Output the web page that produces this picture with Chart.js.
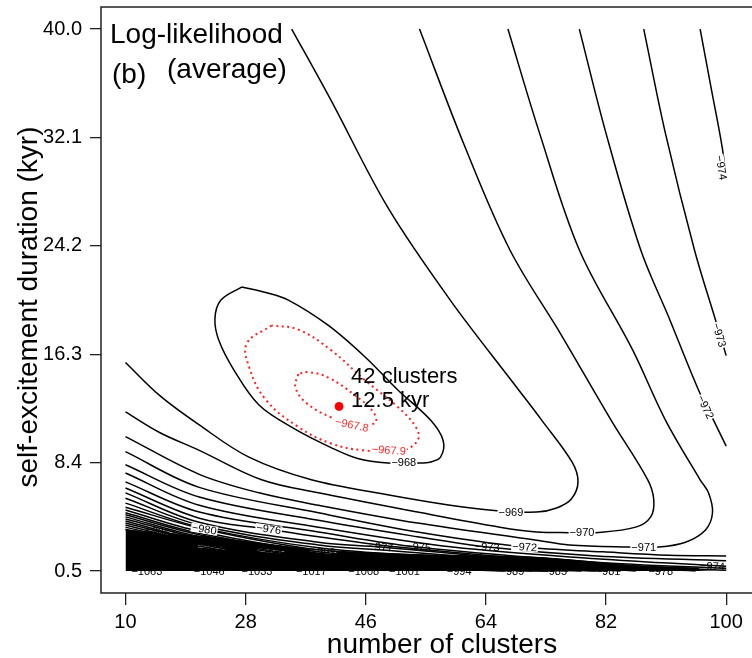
<!DOCTYPE html>
<html>
<head>
<meta charset="utf-8">
<script src="https://cdn.jsdelivr.net/npm/chart.js@4.4.0/dist/chart.umd.min.js"></script>
<style>
  html, body { margin: 0; padding: 0; background: #fff; overflow: hidden; }
</style>
</head>
<body>
<canvas id="myChart" width="752" height="658"></canvas>
<script>
const xTicks = [10, 28, 46, 64, 82, 100];
const yTicks = [0.5, 8.4, 16.3, 24.2, 32.1, 40.0];

// maximum of the average log-likelihood
const bestClusters = 42;
const bestDuration = 12.5;

// contour lines as [clusters, kyr] pairs
const c967_8 = [[35.9,14.86],[35.45,13.9],[37.1,12.75],[40.8,11.7],[44.1,11.2],[47.4,11.3],[47.1,12.1],[44.4,13.3],[40.4,14.6],[37.4,15.0],[35.9,14.86]];
const c967_9 = [[31.9,18.4],[28.2,17.1],[28.5,15.4],[31.0,13.0],[35.9,11.0],[40.8,9.8],[45.6,9.3],[51.5,9.3],[53.8,10.05],[53.5,11.0],[50.8,12.45],[45.9,14.4],[40.8,16.6],[35.9,18.1],[31.9,18.4]];
const c968 = [[27.4,21.2],[31.0,20.8],[34.4,20.25],[40.4,18.4],[45.9,16.1],[50.8,13.7],[55.7,11.5],[57.6,10.0],[57.2,8.8],[55.7,8.45],[53.8,8.37],[49.3,8.37],[44.8,8.7],[40.8,9.5],[35.2,10.9],[30.0,12.6],[26.25,15.15],[24.0,17.3],[23.4,18.9],[24.3,20.25],[27.4,21.2]];
const c969 = [[10.0,15.7],[15.1,13.3],[21.05,11.15],[28.5,8.8],[37.85,7.15],[48.85,6.1],[58.65,5.3],[65.65,4.9],[71.6,4.8],[74.6,5.1],[76.8,5.75],[77.8,7.0],[76.9,8.45],[72.35,11.5],[68.6,13.9],[58.65,20.25],[49.3,27.0],[40.8,34.8],[34.9,40.0]];
const c970 = [[10.0,12.1],[15.1,10.6],[21.05,9.3],[30.4,7.15],[38.9,6.2],[53.75,4.8],[66.1,3.7],[71.6,3.35],[76.5,3.3],[80.5,3.3],[86.45,3.7],[88.7,4.45],[89.15,5.7],[88.25,7.15],[82.75,11.5],[75.3,17.7],[67.6,23.9],[60.75,31.55],[54.05,40.0]];
const c971 = [[10,10.3],[21.05,7.55],[30.0,6.2],[38.9,5.3],[53.75,4.0],[71.6,2.75],[76.5,2.4],[85.4,2.25],[89.9,2.25],[93.9,2.6],[96.9,3.5],[97.95,4.75],[97.35,6.2],[96.1,7.15],[90.9,11.5],[86.0,16.6],[78.0,23.9],[72.05,32.4],[67.3,40.0]];
const c972top = [[78.0,40],[82.0,32.4],[87.2,23.9],[91.4,19.0],[95.85,13.7],[98.1,11.5],[100,9.6]];
const c972low = [[10,9.2],[21.05,6.6],[38.9,4.75],[53.75,3.35],[69.8,2.25],[81.55,1.9],[91.4,1.65],[100,1.6]];
const c973top = [[87.65,40],[90.9,32.4],[95.25,23.9],[98.4,18.8],[100,16.2]];
const c973low = [[10,8.25],[21.05,5.9],[38.9,4.2],[53.75,3.0],[64.2,2.25],[80.5,1.6],[100,1.25]];
const c974top = [[96.1,40],[97.75,35.7],[99.4,31.4],[100,29.0]];
const c974low = [[10,7.65],[21.05,5.3],[38.9,3.7],[59.0,2.25],[80.5,1.4],[100,0.85]];
const c975 = [[10,7.0],[21.05,4.8],[38.9,3.35],[53.75,2.25],[80.5,1.15],[100,0.7]];
const c976 = [[10,6.55],[21.05,4.35],[31.45,3.55],[38.9,3.0],[50.8,2.25],[80.5,1.0],[100,0.55]];
const c977 = [[10,6.2],[21.05,4.05],[38.9,2.6],[48.25,2.25],[80.5,0.85],[95.4,0.5]];
const c978 = [[10,5.8],[21.05,3.85],[38.9,2.4],[50.8,1.95],[71.6,1.15],[90.2,0.5]];
const c979 = [[10,5.45],[21.05,3.7],[38.9,2.2],[58.2,1.5],[86.45,0.5]];
const c980 = [[10,5.15],[21.8,3.55],[38.9,2.05],[58.2,1.3],[84.2,0.5]];
const c981 = [[10,4.95],[21.05,3.4],[38.9,1.9],[58.2,1.15],[82.3,0.5]];
const c982 = [[10,4.75],[21.05,3.25],[38.9,1.8],[58.2,1.0],[80.5,0.5]];
const c983 = [[10,4.6],[21.05,3.15],[38.9,1.75],[58.2,0.95],[78.3,0.5]];
const c984 = [[10,4.45],[21.05,3.0],[38.9,1.65],[56.7,0.85],[76.35,0.5]];
const c985 = [[10,4.3],[21.05,2.9],[38.9,1.5],[55.3,0.8],[74.3,0.5]];
const c986 = [[10,4.15],[21.05,2.75],[38.9,1.45],[53.75,0.8],[72.65,0.5]];
const c987 = [[10,4.0],[21.05,2.7],[38.9,1.3],[71.0,0.5]];
const c988 = [[10,3.85],[21.05,2.55],[38.9,1.25],[69.4,0.5]];
const c989 = [[10,3.7],[21.05,2.45],[38.9,1.15],[67.9,0.5]];
const c990 = [[10,3.55],[21.05,2.3],[38.9,1.1],[66.1,0.5]];
// upper edge of the band where the lines run together
const denseTop = [[10,3.5],[21.05,3.05],[38.9,2.05],[53.75,1.7],[71.6,1.5],[86.45,0.9],[100,0.65]];

const blackLines = [c968, c969, c970, c971, c972top, c972low, c973top, c973low, c974top, c974low,
  c975, c976, c977, c978, c979, c980, c981, c982, c983, c984, c985, c986, c987, c988, c989, c990];
const redLines = [c967_8, c967_9];

// contour labels: text, clusters, kyr, angle (deg)
const clearLabels = [
  ['−967.8', 43.9, 11.15, 12, 'red'],
  ['−967.9', 49.45, 9.3, 4, 'red'],
  ['−968', 51.7, 8.45, 0],
  ['−969', 67.75, 4.8, 0],
  ['−970', 78.4, 3.3, 0],
  ['−971', 87.65, 2.25, 0],
  ['−972', 69.8, 2.25, 3],
  ['−976', 31.45, 3.55, 8],
  ['−980', 21.8, 3.55, 9],
  ['−974', 99.25, 29.9, 80],
  ['−973', 98.95, 17.7, 73],
  ['−972', 96.9, 12.45, 65]
];
const buriedLabels = [
  ['−977', 48.25, 2.25, 5],
  ['−975', 53.9, 2.25, 5],
  ['−973', 64.2, 2.25, 3],
  ['−974', 97.95, 0.85, 3],
  ['−986', 14.8, 3.4, 10, 'thin'],
  ['−999', 22.85, 2.25, 6, 'thin'],
  ['−996', 31.75, 1.95, 5, 'thin'],
  ['−993', 39.6, 1.9, 4, 'thin']
];
const edgeLabels = [
  ['−978', 90.2], ['−981', 82.3], ['−985', 74.3], ['−989', 67.9], ['−994', 60.0], ['−1001', 51.8],
  ['−1008', 45.7], ['−1017', 37.85], ['−1033', 29.7], ['−1046', 22.55], ['−1063', 13.2]
];

const FONT = '"Liberation Sans", Arial, Helvetica, sans-serif';

function toPts(arr) {
  return arr.map(p => ({x: p[0], y: p[1]}));
}

function drawLabel(chart, lab, mode) {
  const ctx = chart.ctx;
  const xs = chart.scales.x, ys = chart.scales.y;
  const px = xs.getPixelForValue(lab[1]);
  const py = ys.getPixelForValue(lab[2]);
  const ang = (lab[3] || 0) * Math.PI / 180;
  ctx.save();
  ctx.translate(px, py);
  ctx.rotate(ang);
  ctx.font = '11px ' + FONT;
  ctx.textAlign = 'center';
  ctx.textBaseline = 'middle';
  const w = ctx.measureText(lab[0]).width + 2;
  const h = mode === 'thin' ? 3 : 9;
  ctx.fillStyle = '#fff';
  ctx.fillRect(-w / 2, -h / 2, w, h);
  ctx.fillStyle = lab[4] === 'red' ? '#ff2a2a' : '#000';
  ctx.fillText(lab[0], 0, 0.5);
  ctx.restore();
}

const labelPlugin = {
  id: 'contourLabels',
  beforeDatasetsDraw(chart) {
    edgeLabels.forEach(l => drawLabel(chart, [l[0], l[1], 0.45, 0]));
  },
  afterDatasetDraw(chart, args) {
    if (args.meta.order === 3) {
      buriedLabels.forEach(l => drawLabel(chart, l, l[4]));
    }
  },
  afterDatasetsDraw(chart) {
    clearLabels.forEach(l => drawLabel(chart, l));
  }
};

const framePlugin = {
  id: 'frame',
  afterDraw(chart) {
    const ctx = chart.ctx;
    const a = chart.chartArea;
    ctx.save();
    ctx.strokeStyle = '#222';
    ctx.lineWidth = 1.5;
    ctx.beginPath();
    ctx.moveTo(chart.width, a.top);
    ctx.lineTo(a.left, a.top);
    ctx.lineTo(a.left, a.bottom);
    ctx.lineTo(chart.width, a.bottom);
    ctx.stroke();

    // panel title
    ctx.fillStyle = '#000';
    ctx.font = '28px ' + FONT;
    ctx.textAlign = 'left';
    ctx.textBaseline = 'alphabetic';
    ctx.fillText('Log-likelihood', a.left + 9, a.top + 36);
    ctx.fillText('(b)', a.left + 11, a.top + 76);
    ctx.fillText('(average)', a.left + 66, a.top + 71);

    // axis titles
    ctx.textAlign = 'center';
    ctx.fillText('number of clusters', 442, 653);
    ctx.save();
    ctx.translate(37, 307);
    ctx.rotate(-Math.PI / 2);
    ctx.fillText('self-excitement duration (kyr)', 0, 0);
    ctx.restore();

    // note next to the maximum
    const mx = chart.scales.x.getPixelForValue(bestClusters);
    const my = chart.scales.y.getPixelForValue(bestDuration);
    ctx.font = '22px ' + FONT;
    ctx.textAlign = 'left';
    ctx.fillText(bestClusters + ' clusters', mx + 12, my - 23);
    ctx.fillText(bestDuration.toFixed(1) + ' kyr', mx + 12, my + 1);
    ctx.restore();
  }
};

const datasets = [];
datasets.push({
  data: [{x: bestClusters, y: bestDuration}],
  showLine: false,
  pointRadius: 4,
  pointBackgroundColor: '#ff0000',
  pointBorderColor: '#ff0000',
  order: 0
});
redLines.forEach(c => datasets.push({
  data: toPts(c),
  showLine: true,
  borderColor: '#ff2020',
  borderWidth: 2,
  borderDash: [2, 3.5],
  pointRadius: 0,
  tension: 0.4,
  order: 1
}));
blackLines.forEach(c => datasets.push({
  data: toPts(c),
  showLine: true,
  borderColor: '#000',
  borderWidth: 1.5,
  pointRadius: 0,
  tension: 0.35,
  order: 2
}));
datasets.push({
  data: toPts(denseTop),
  showLine: true,
  borderColor: '#000',
  borderWidth: 1,
  backgroundColor: '#000',
  fill: {value: 0.5},
  pointRadius: 0,
  tension: 0.3,
  order: 3
});

function tickAxis(values) {
  return function (scale) {
    scale.ticks = values.map(v => ({value: v}));
  };
}

const ctx = document.getElementById('myChart');
new Chart(ctx, {
  type: 'scatter',
  data: {datasets: datasets},
  options: {
    responsive: false,
    animation: false,
    devicePixelRatio: 1,
    layout: {padding: {left: 0, top: 7, right: 0, bottom: 0}},
    plugins: {legend: {display: false}, tooltip: {enabled: false}},
    scales: {
      x: {
        type: 'linear',
        min: 6.33,
        max: 103.12,
        afterBuildTicks: tickAxis(xTicks),
        afterFit(scale) { scale.height = 65; scale.paddingLeft = 0; scale.paddingRight = 0; },
        border: {display: false},
        grid: {drawOnChartArea: false, drawTicks: true, tickLength: 12, color: '#222', lineWidth: 1.3},
        ticks: {autoSkip: false, maxRotation: 0, padding: 5, color: '#000', font: {size: 20, family: FONT}}
      },
      y: {
        type: 'linear',
        min: -1.1,
        max: 41.61,
        afterBuildTicks: tickAxis(yTicks),
        afterFit(scale) { scale.width = 101; scale.paddingTop = 0; scale.paddingBottom = 0; },
        border: {display: false},
        grid: {drawOnChartArea: false, drawTicks: true, tickLength: 11, color: '#222', lineWidth: 1.3},
        ticks: {
          autoSkip: false, padding: 8, color: '#000', font: {size: 20, family: FONT},
          callback: v => Number(v).toFixed(1)
        }
      }
    }
  },
  plugins: [labelPlugin, framePlugin]
});
</script>
</body>
</html>
